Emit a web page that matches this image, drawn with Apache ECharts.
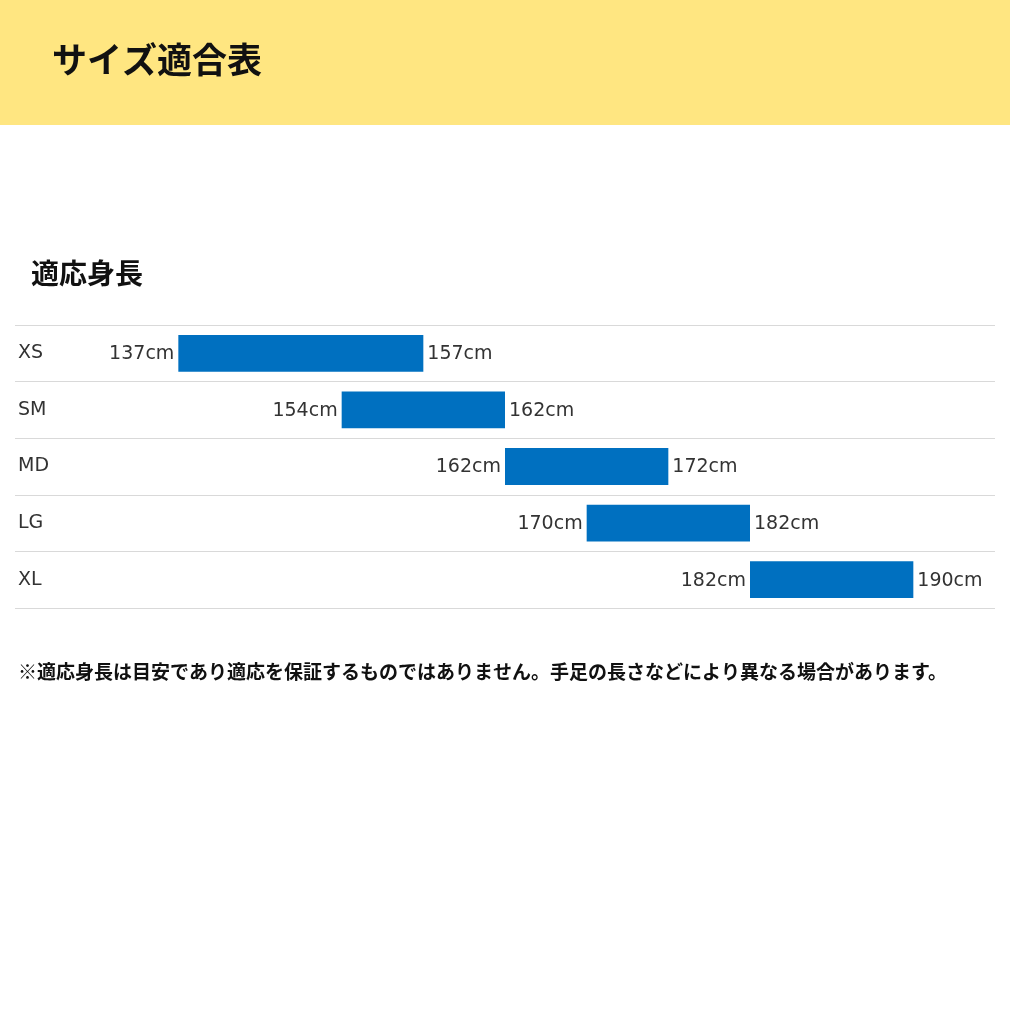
<!DOCTYPE html>
<html lang="ja">
<head>
    <meta charset="UTF-8">
    <title>サイズ適合表</title>
    <script src="https://cdn.jsdelivr.net/npm/echarts@6/dist/echarts.min.js"></script>
    <style>
        html, body { margin: 0; padding: 0; background: #ffffff; }
        #chart { width: 1010px; height: 1010px; }
    </style>
</head>
<body>
<div id="chart"></div>
<script>
    // サイズ区分
    var sizes = ['XS', 'SM', 'MD', 'LG', 'XL'];
    // 表示する身長ラベル（cm）
    var lowCm  = [137, 154, 162, 170, 182];
    var highCm = [157, 162, 172, 182, 190];
    // 図の横方向の目盛位置（元の表の列単位、cmに比例しない）
    var barStart = [0, 2, 4, 5, 7];
    var barEnd   = [3, 4, 6, 7, 9];

    var rows = sizes.map(function (s, i) {
        return [i, barStart[i], barEnd[i], lowCm[i], highCm[i]];
    });

    var chart = echarts.init(document.getElementById('chart'));

    var jpFont = '"Noto Sans CJK JP", "Noto Sans", sans-serif';
    var numFont = '"DejaVu Sans", "Noto Sans", sans-serif';

    var option = {
        backgroundColor: '#ffffff',
        animation: false,
        graphic: [
            {
                type: 'rect',
                left: 0, top: 0,
                shape: { width: 1010, height: 125 },
                style: { fill: '#ffe681' },
                z: -1
            },
            {
                type: 'text',
                left: 52, top: 42,
                style: {
                    text: 'サイズ適合表',
                    font: 'bold 35px ' + jpFont,
                    fill: '#111111'
                }
            },
            {
                type: 'text',
                left: 31, top: 259,
                style: {
                    text: '適応身長',
                    font: 'bold 28px ' + jpFont,
                    fill: '#111111'
                }
            },
            {
                type: 'text',
                left: 18, top: 662,
                style: {
                    text: '※適応身長は目安であり適応を保証するものではありません。手足の長さなどにより異なる場合があります。',
                    font: 'bold 19px ' + jpFont,
                    fill: '#111111'
                }
            }
        ],
        grid: {
            left: 15,
            right: 15,
            top: 325,
            bottom: 402
        },
        xAxis: {
            type: 'value',
            min: -2,
            max: 10,
            show: false
        },
        yAxis: {
            type: 'category',
            data: sizes,
            inverse: true,
            axisLine: { show: false },
            axisTick: { show: false },
            axisLabel: {
                inside: true,
                margin: 3,
                fontSize: 19,
                fontFamily: numFont,
                color: '#333333'
            },
            splitLine: {
                show: true,
                lineStyle: { color: '#d9d9d9', width: 1 }
            }
        },
        series: [
            {
                type: 'custom',
                data: rows,
                encode: { x: [1, 2], y: 0 },
                renderItem: function (params, api) {
                    var row = api.value(0);
                    var p0 = api.coord([api.value(1), row]);
                    var p1 = api.coord([api.value(2), row]);
                    var h = api.size([0, 1])[1] * 0.65;
                    var y = p0[1];
                    var txt = {
                        fontSize: 19,
                        fontFamily: numFont,
                        fill: '#333333',
                        verticalAlign: 'middle'
                    };
                    return {
                        type: 'group',
                        children: [
                            {
                                type: 'rect',
                                shape: { x: p0[0], y: y - h / 2, width: p1[0] - p0[0], height: h },
                                style: { fill: '#0070c0' }
                            },
                            {
                                type: 'text',
                                style: Object.assign({}, txt, {
                                    x: p0[0] - 4, y: y + 1,
                                    text: api.value(3) + 'cm',
                                    align: 'right'
                                })
                            },
                            {
                                type: 'text',
                                style: Object.assign({}, txt, {
                                    x: p1[0] + 4, y: y + 1,
                                    text: api.value(4) + 'cm',
                                    align: 'left'
                                })
                            }
                        ]
                    };
                }
            }
        ]
    };

    chart.setOption(option);
</script>
</body>
</html>
